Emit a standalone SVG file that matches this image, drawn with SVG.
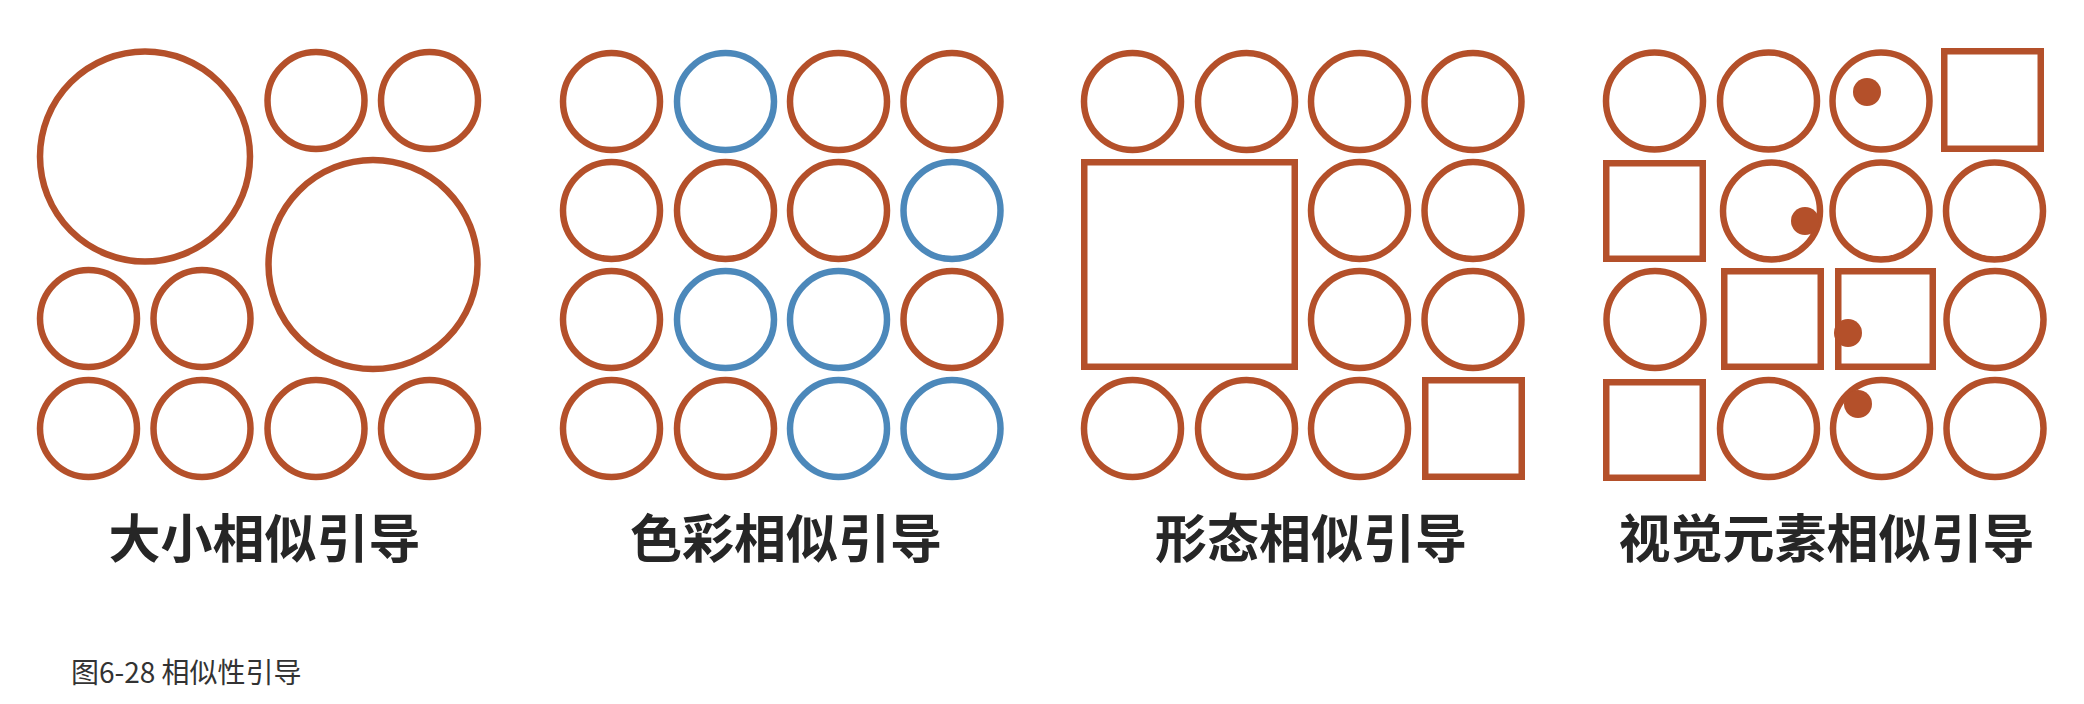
<svg xmlns="http://www.w3.org/2000/svg" width="2084" height="704" viewBox="0 0 2084 704">
<style>
.o{fill:none;stroke:#B4502A;stroke-width:6.5}
.b{fill:none;stroke:#4C88BA;stroke-width:6.5}
.d{fill:#B4502A}
.lbl{font-family:"Noto Sans CJK SC","Noto Sans",sans-serif;font-weight:bold;font-size:52px;fill:#262626;text-anchor:middle}
.cap{font-family:"Noto Sans CJK SC","Noto Sans",sans-serif;font-size:28px;fill:#333}
</style>
<rect width="2084" height="704" fill="#fff"/>
<g id="panel-size">
<circle class="o" cx="145" cy="156.5" r="105"/>
<circle class="o" cx="316" cy="100.5" r="48.5"/>
<circle class="o" cx="429.5" cy="100.5" r="48.5"/>
<circle class="o" cx="373" cy="264.5" r="104.5"/>
<circle class="o" cx="88.5" cy="318.5" r="48.5"/>
<circle class="o" cx="202" cy="318.5" r="48.5"/>
<circle class="o" cx="88.5" cy="428.5" r="48.5"/>
<circle class="o" cx="202" cy="428.5" r="48.5"/>
<circle class="o" cx="316" cy="428.5" r="48.5"/>
<circle class="o" cx="429.5" cy="428.5" r="48.5"/>
<text class="lbl" x="264.5" y="558">大小相似引导</text>
</g>
<g id="panel-color">
<circle class="o" cx="611.5" cy="101.5" r="48.5"/>
<circle class="b" cx="725.5" cy="101.5" r="48.5"/>
<circle class="o" cx="838.5" cy="101.5" r="48.5"/>
<circle class="o" cx="952" cy="101.5" r="48.5"/>
<circle class="o" cx="611.5" cy="210.5" r="48.5"/>
<circle class="o" cx="725.5" cy="210.5" r="48.5"/>
<circle class="o" cx="838.5" cy="210.5" r="48.5"/>
<circle class="b" cx="952" cy="210.5" r="48.5"/>
<circle class="o" cx="611.5" cy="319.5" r="48.5"/>
<circle class="b" cx="725.5" cy="319.5" r="48.5"/>
<circle class="b" cx="838.5" cy="319.5" r="48.5"/>
<circle class="o" cx="952" cy="319.5" r="48.5"/>
<circle class="o" cx="611.5" cy="428.5" r="48.5"/>
<circle class="o" cx="725.5" cy="428.5" r="48.5"/>
<circle class="b" cx="838.5" cy="428.5" r="48.5"/>
<circle class="b" cx="952" cy="428.5" r="48.5"/>
<text class="lbl" x="786" y="558">色彩相似引导</text>
</g>
<g id="panel-shape">
<circle class="o" cx="1132.5" cy="101.5" r="48.5"/>
<circle class="o" cx="1246.5" cy="101.5" r="48.5"/>
<circle class="o" cx="1359.5" cy="101.5" r="48.5"/>
<circle class="o" cx="1473" cy="101.5" r="48.5"/>
<rect class="o" x="1084.25" y="162.25" width="210.5" height="204.5"/>
<circle class="o" cx="1359.5" cy="210.5" r="48.5"/>
<circle class="o" cx="1473" cy="210.5" r="48.5"/>
<circle class="o" cx="1359.5" cy="319.5" r="48.5"/>
<circle class="o" cx="1473" cy="319.5" r="48.5"/>
<circle class="o" cx="1132.5" cy="428.5" r="48.5"/>
<circle class="o" cx="1246.5" cy="428.5" r="48.5"/>
<circle class="o" cx="1359.5" cy="428.5" r="48.5"/>
<rect class="o" x="1425.25" y="380.25" width="96.5" height="96.5"/>
<text class="lbl" x="1311" y="558">形态相似引导</text>
</g>
<g id="panel-element">
<circle class="o" cx="1654.5" cy="101" r="48.5"/>
<circle class="o" cx="1768.5" cy="101" r="48.5"/>
<circle class="o" cx="1881" cy="101" r="48.5"/>
<circle class="d" cx="1867" cy="92" r="14"/>
<rect class="o" x="1944.25" y="51.25" width="96.5" height="97.5"/>
<rect class="o" x="1606.25" y="163.25" width="96.5" height="95.5"/>
<circle class="o" cx="1771.5" cy="211" r="48.5"/>
<circle class="d" cx="1805" cy="221" r="14"/>
<circle class="o" cx="1881" cy="211" r="48.5"/>
<circle class="o" cx="1994.5" cy="211" r="48.5"/>
<circle class="o" cx="1655" cy="319.5" r="48.5"/>
<rect class="o" x="1724.25" y="271.25" width="96.5" height="95.5"/>
<rect class="o" x="1838.25" y="271.25" width="94.5" height="95.5"/>
<circle class="d" cx="1848" cy="333" r="14"/>
<circle class="o" cx="1995" cy="319.5" r="48.5"/>
<rect class="o" x="1606.25" y="382.25" width="96.5" height="95.5"/>
<circle class="o" cx="1768.5" cy="428.5" r="48.5"/>
<circle class="o" cx="1881.5" cy="428.5" r="48.5"/>
<circle class="d" cx="1858" cy="404" r="14"/>
<circle class="o" cx="1995" cy="428.5" r="48.5"/>
<text class="lbl" x="1826.5" y="558">视觉元素相似引导</text>
</g>
<g id="connectors"></g>
<text class="cap" x="71" y="683">图6-28 相似性引导</text>
</svg>
